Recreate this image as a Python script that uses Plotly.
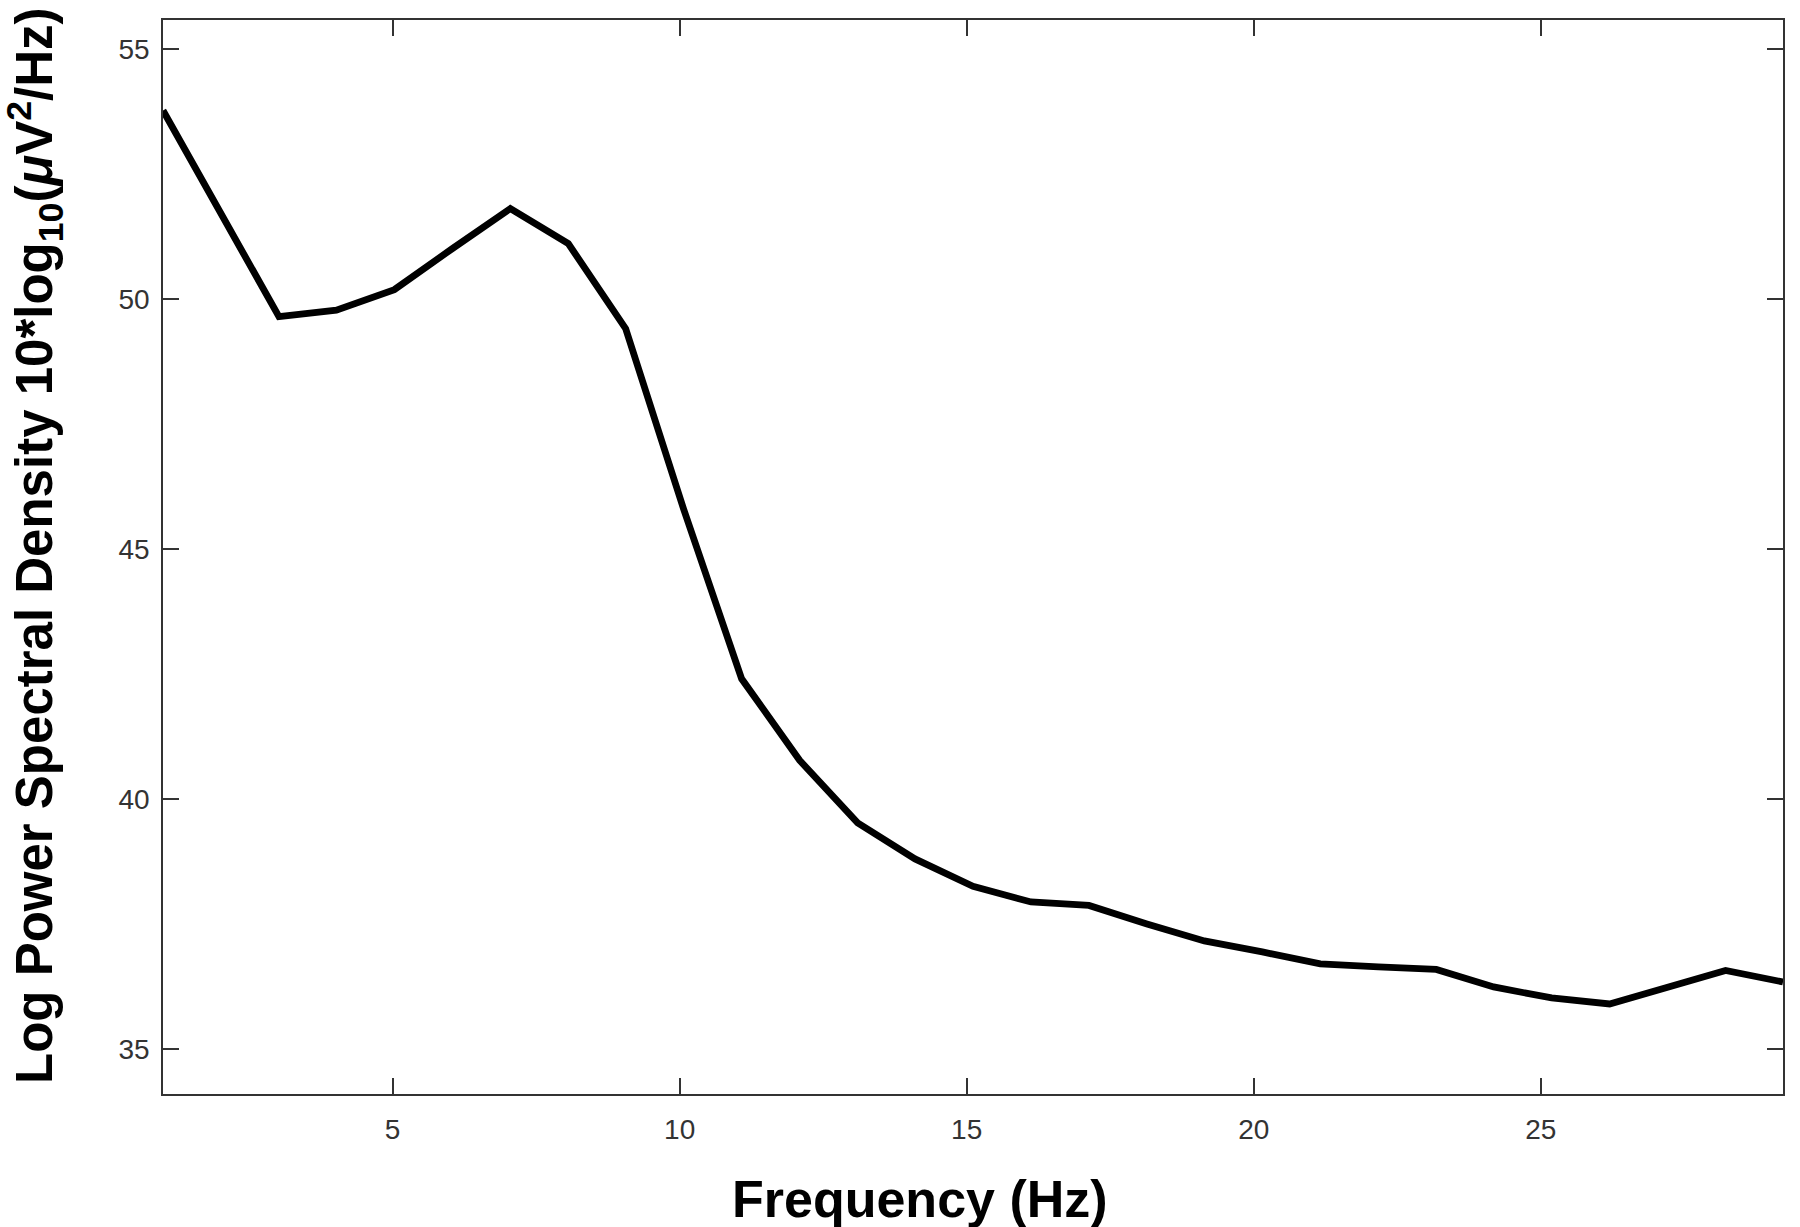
import plotly.graph_objects as go

# Frequency bins (Hz)
freqs = [1.00, 2.01, 3.02, 4.02, 5.03, 6.04, 7.05, 8.06, 9.06, 10.07,
         11.08, 12.09, 13.10, 14.10, 15.11, 16.12, 17.13, 18.14, 19.14, 20.15,
         21.16, 22.17, 23.18, 24.18, 25.19, 26.20, 27.21, 28.22, 29.22]
# Log power spectral density (dB)
psd_db = [53.77, 51.71, 49.65, 49.78, 50.19, 51.01, 51.81, 51.11, 49.41, 45.80,
          42.41, 40.78, 39.53, 38.81, 38.26, 37.95, 37.88, 37.51, 37.17, 36.95,
          36.71, 36.65, 36.60, 36.25, 36.03, 35.91, 36.26, 36.58, 36.35]

x_ticks = [5, 10, 15, 20, 25]
y_ticks = [35, 40, 45, 50, 55]

W, H = 1800, 1227
ML, MR, MT, MB = 163, 17, 20, 133
PW, PH = W - ML - MR, H - MT - MB

fig = go.Figure()
fig.add_trace(go.Scatter(x=freqs, y=psd_db, mode="lines",
                         line=dict(color="black", width=6.8), showlegend=False))

axis_common = dict(showline=True, linecolor="#333333", linewidth=1.6, mirror="ticks",
                   ticks="inside", ticklen=16, tickwidth=1.5, tickcolor="#333333",
                   showgrid=False, zeroline=False,
                   tickfont=dict(family="Liberation Sans, Arial, sans-serif", size=28, color="#333333"))

fig.update_xaxes(range=[1.0, 29.22], tickvals=x_ticks, ticklabelstandoff=10, **axis_common)
fig.update_yaxes(range=[34.11, 55.58], tickvals=y_ticks, ticklabelstandoff=6, **axis_common)

def px_x(p):
    return (p - ML) / PW

def px_y(p):
    return 1 - (p - MT) / PH

fig.add_annotation(text="<b>Frequency (Hz)</b>", xref="paper", yref="paper",
                   x=px_x(920), y=px_y(1199), xanchor="center", yanchor="middle",
                   showarrow=False,
                   font=dict(family="Liberation Sans, Arial, sans-serif", size=52, color="black"))
fig.add_annotation(text="<b>Log Power Spectral Density 10*log<sub>10</sub>(<i>μ</i>V<sup>2</sup>/Hz)</b>",
                   xref="paper", yref="paper", textangle=-90,
                   x=px_x(35), y=px_y(546), xanchor="center", yanchor="middle",
                   showarrow=False,
                   font=dict(family="Liberation Sans, Arial, sans-serif", size=51, color="black"))

fig.update_layout(width=W, height=H, margin=dict(l=ML, r=MR, t=MT, b=MB),
                  paper_bgcolor="white", plot_bgcolor="white")

fig.write_html("out.html", config={"displayModeBar": False},
               post_script="document.body.style.margin='0px';")
